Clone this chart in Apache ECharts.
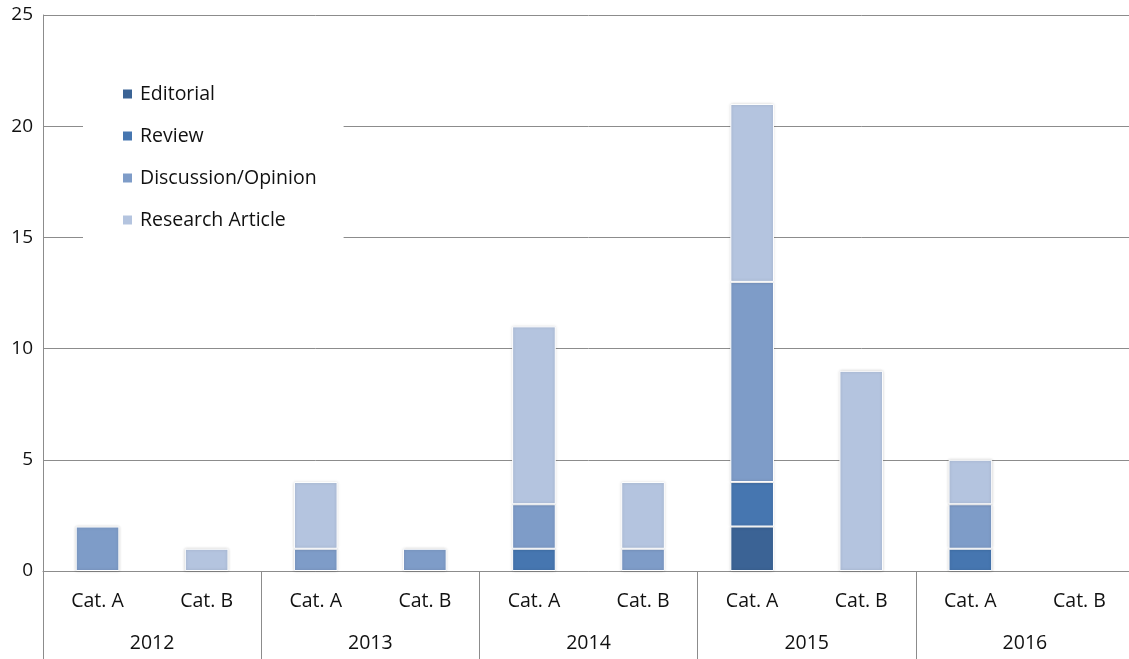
<!DOCTYPE html>
<html>
<head>
<meta charset="utf-8">
<script src="https://cdn.jsdelivr.net/npm/echarts@6/dist/echarts.min.js"></script>
<style>
  html, body { margin: 0; padding: 0; background: #fff; overflow: hidden; }
  #chart { width: 1134px; height: 659px; }
</style>
</head>
<body>
<div id="chart"></div>
<script>
const categories = ['Cat. A', 'Cat. B', 'Cat. A', 'Cat. B', 'Cat. A', 'Cat. B', 'Cat. A', 'Cat. B', 'Cat. A', 'Cat. B'];
const years = ['2012', '2013', '2014', '2015', '2016'];

const editorial = [null, null, null, null, null, null, 2, null, null, null];
const review = [null, null, null, null, 1, null, 2, null, 1, null];
const discussion = [2, null, 1, 1, 2, 1, 9, null, 2, null];
const research = [null, 1, 3, null, 8, 3, 8, 9, 2, null];

const seriesNames = ['Editorial', 'Review', 'Discussion/Opinion', 'Research Article'];
const seriesColors = ['#3b6395', '#4676b0', '#7e9cc8', '#b4c4df'];

const FONT = 'Open Sans';
const FS = 19.5;
const chart = echarts.init(document.getElementById('chart'), null, { renderer: 'canvas' });

const makeSeries = (name, data, i) => ({
    name,
    type: 'bar',
    stack: 'total',
    barWidth: '40%',
    data,
    itemStyle: {
        color: seriesColors[i],
        borderColor: '#ffffff',
        borderWidth: 1,
        shadowBlur: 3,
        shadowColor: 'rgba(0,0,0,0.18)',
    },
});

const option = {
    animation: false,
    textStyle: { fontFamily: FONT },
    legend: {
        orient: 'vertical',
        left: 83,
        top: 69,
        padding: [14, 27, 13, 38],
        backgroundColor: '#ffffff',
        itemWidth: 11,
        itemHeight: 11,
        itemGap: 20,
        icon: 'rect',
        textStyle: {
            fontFamily: FONT,
            fontSize: FS,
            lineHeight: 22,
            color: '#111',
            padding: [0, 0, 0, 2],
        },
        data: seriesNames,
    },
    grid: {
        left: 43,
        right: 0,
        top: 15,
        bottom: 88,
    },
    xAxis: [
        {
            type: 'category',
            data: categories,
            position: 'bottom',
            axisTick: { show: false },
            axisLine: { show: true, lineStyle: { color: '#8c8c8c', width: 1 } },
            axisLabel: {
                interval: 0,
                margin: 20,
                fontFamily: FONT,
                fontSize: FS,
                color: '#111',
            },
        },
        {
            type: 'category',
            data: years,
            position: 'bottom',
            axisLine: { show: false },
            axisTick: {
                show: true,
                interval: 0,
                length: 88,
                lineStyle: { color: '#8c8c8c', width: 1 },
            },
            axisLabel: {
                interval: 0,
                margin: 62,
                fontFamily: FONT,
                fontSize: FS,
                color: '#111',
            },
        },
    ],
    yAxis: {
        type: 'value',
        min: 0,
        max: 25,
        interval: 5,
        axisLine: { show: true, lineStyle: { color: '#8c8c8c', width: 1 } },
        axisTick: { show: false },
        axisLabel: {
            margin: 10,
            fontFamily: FONT,
            fontSize: 19,
            color: '#111',
        },
        splitLine: { show: true, lineStyle: { color: '#8c8c8c', width: 1 } },
    },
    series: [
        makeSeries(seriesNames[0], editorial, 0),
        makeSeries(seriesNames[1], review, 1),
        makeSeries(seriesNames[2], discussion, 2),
        makeSeries(seriesNames[3], research, 3),
    ],
};

chart.setOption(option);
</script>
</body>
</html>
